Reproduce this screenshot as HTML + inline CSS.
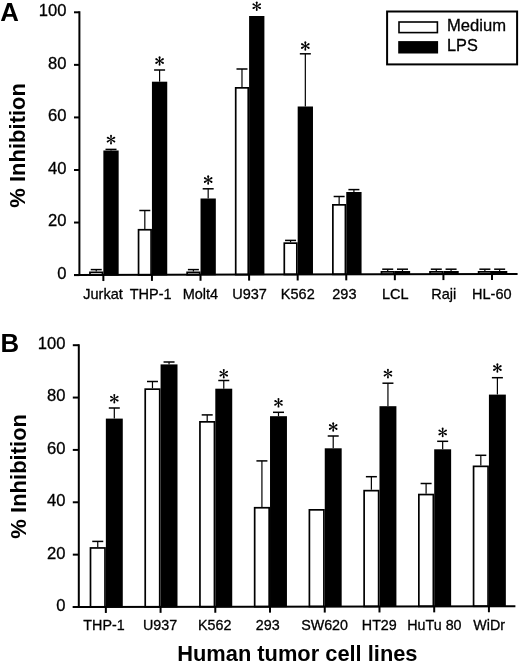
<!DOCTYPE html>
<html><head><meta charset="utf-8"><style>
html,body{margin:0;padding:0;background:#fff;}
body{width:520px;height:664px;overflow:hidden;}
svg{display:block;will-change:transform;}
text{font-family:"Liberation Sans",sans-serif;fill:#000;}
text:not([font-weight]){stroke:#000;stroke-width:0.3px;}
.ax{stroke:#000;stroke-width:2;fill:none;}
.e{stroke:#000;stroke-width:1.2;}
.c{stroke:#000;stroke-width:1.5;}
.w{fill:#fff;stroke:#000;stroke-width:1.7;}
</style></head><body>
<svg width="520" height="664" viewBox="0 0 520 664">
<defs>
<g id="ast"><g transform="rotate(0)"><path d="M-0.3,0 L-0.95,-3.85 A0.95,0.95 0 0 1 0.95,-3.85 L0.3,0 Z"/></g><g transform="rotate(60)"><path d="M-0.3,0 L-0.95,-3.85 A0.95,0.95 0 0 1 0.95,-3.85 L0.3,0 Z"/></g><g transform="rotate(120)"><path d="M-0.3,0 L-0.95,-3.85 A0.95,0.95 0 0 1 0.95,-3.85 L0.3,0 Z"/></g><g transform="rotate(180)"><path d="M-0.3,0 L-0.95,-3.85 A0.95,0.95 0 0 1 0.95,-3.85 L0.3,0 Z"/></g><g transform="rotate(240)"><path d="M-0.3,0 L-0.95,-3.85 A0.95,0.95 0 0 1 0.95,-3.85 L0.3,0 Z"/></g><g transform="rotate(300)"><path d="M-0.3,0 L-0.95,-3.85 A0.95,0.95 0 0 1 0.95,-3.85 L0.3,0 Z"/></g><circle r="0.75"/></g>
</defs>
<line x1="96.24" y1="271.5" x2="96.24" y2="269.6" class="e"/>
<line x1="90.74" y1="269.6" x2="101.74" y2="269.6" class="c"/>
<rect x="89.97" y="272.35" width="12.54" height="2.69" class="w"/>
<line x1="111.01" y1="150.5" x2="111.01" y2="149.4" class="e"/>
<line x1="105.51" y1="149.4" x2="116.51" y2="149.4" class="c"/>
<rect x="103.36" y="150.5" width="15.3" height="125.04" fill="#000"/>
<use href="#ast" x="111.01" y="139.6"/>
<line x1="103.36" y1="275.04" x2="103.36" y2="281.04" class="ax"/>
<text x="103" y="298.7" font-size="14.5" text-anchor="middle">Jurkat</text>
<line x1="144.82" y1="228.9" x2="144.82" y2="210.5" class="e"/>
<line x1="139.32" y1="210.5" x2="150.32" y2="210.5" class="c"/>
<rect x="138.55" y="229.75" width="12.54" height="45.15" class="w"/>
<line x1="159.59" y1="81.7" x2="159.59" y2="70" class="e"/>
<line x1="154.09" y1="70" x2="165.09" y2="70" class="c"/>
<rect x="151.94" y="81.7" width="15.3" height="193.7" fill="#000"/>
<use href="#ast" x="159.59" y="61"/>
<line x1="151.94" y1="274.9" x2="151.94" y2="280.9" class="ax"/>
<text x="150.7" y="298.7" font-size="14.5" text-anchor="middle">THP-1</text>
<line x1="193.4" y1="271.5" x2="193.4" y2="269.6" class="e"/>
<line x1="187.9" y1="269.6" x2="198.9" y2="269.6" class="c"/>
<rect x="187.13" y="272.35" width="12.54" height="2.42" class="w"/>
<line x1="208.17" y1="198.5" x2="208.17" y2="188.8" class="e"/>
<line x1="202.67" y1="188.8" x2="213.67" y2="188.8" class="c"/>
<rect x="200.52" y="198.5" width="15.3" height="76.77" fill="#000"/>
<use href="#ast" x="208.17" y="180"/>
<line x1="200.52" y1="274.77" x2="200.52" y2="280.77" class="ax"/>
<text x="200.4" y="298.7" font-size="14.5" text-anchor="middle">Molt4</text>
<line x1="241.98" y1="87" x2="241.98" y2="69" class="e"/>
<line x1="236.48" y1="69" x2="247.48" y2="69" class="c"/>
<rect x="235.71" y="87.85" width="12.54" height="186.78" class="w"/>
<rect x="249.1" y="16" width="15.3" height="259.13" fill="#000"/>
<use href="#ast" x="256.75" y="6.2"/>
<line x1="249.1" y1="274.63" x2="249.1" y2="280.63" class="ax"/>
<text x="249.5" y="298.7" font-size="14.5" text-anchor="middle">U937</text>
<line x1="290.56" y1="242.3" x2="290.56" y2="240.4" class="e"/>
<line x1="285.06" y1="240.4" x2="296.06" y2="240.4" class="c"/>
<rect x="284.29" y="243.15" width="12.54" height="31.35" class="w"/>
<line x1="305.33" y1="106.5" x2="305.33" y2="53.8" class="e"/>
<line x1="299.83" y1="53.8" x2="310.83" y2="53.8" class="c"/>
<rect x="297.68" y="106.5" width="15.3" height="168.5" fill="#000"/>
<use href="#ast" x="305.33" y="46"/>
<line x1="297.68" y1="274.5" x2="297.68" y2="280.5" class="ax"/>
<text x="297.8" y="298.7" font-size="14.5" text-anchor="middle">K562</text>
<line x1="339.14" y1="204" x2="339.14" y2="196.5" class="e"/>
<line x1="333.64" y1="196.5" x2="344.64" y2="196.5" class="c"/>
<rect x="332.87" y="204.85" width="12.54" height="69.51" class="w"/>
<line x1="353.91" y1="192" x2="353.91" y2="189.6" class="e"/>
<line x1="348.41" y1="189.6" x2="359.41" y2="189.6" class="c"/>
<rect x="346.26" y="192" width="15.3" height="82.86" fill="#000"/>
<line x1="346.26" y1="274.36" x2="346.26" y2="280.36" class="ax"/>
<text x="344.4" y="298.7" font-size="14.5" text-anchor="middle">293</text>
<line x1="387.72" y1="271" x2="387.72" y2="269.2" class="e"/>
<line x1="382.22" y1="269.2" x2="393.22" y2="269.2" class="c"/>
<rect x="381.45" y="271.85" width="12.54" height="2.38" class="w"/>
<line x1="402.49" y1="271" x2="402.49" y2="269.2" class="e"/>
<line x1="396.99" y1="269.2" x2="407.99" y2="269.2" class="c"/>
<rect x="394.84" y="271" width="15.3" height="3.73" fill="#000"/>
<line x1="394.84" y1="274.23" x2="394.84" y2="280.23" class="ax"/>
<text x="395.2" y="298.7" font-size="14.5" text-anchor="middle">LCL</text>
<line x1="436.3" y1="271" x2="436.3" y2="269.2" class="e"/>
<line x1="430.8" y1="269.2" x2="441.8" y2="269.2" class="c"/>
<rect x="430.03" y="271.85" width="12.54" height="2.24" class="w"/>
<line x1="451.07" y1="271" x2="451.07" y2="269.2" class="e"/>
<line x1="445.57" y1="269.2" x2="456.57" y2="269.2" class="c"/>
<rect x="443.42" y="271" width="15.3" height="3.59" fill="#000"/>
<line x1="443.42" y1="274.09" x2="443.42" y2="280.09" class="ax"/>
<text x="443.8" y="298.7" font-size="14.5" text-anchor="middle">Raji</text>
<line x1="484.88" y1="271" x2="484.88" y2="269.2" class="e"/>
<line x1="479.38" y1="269.2" x2="490.38" y2="269.2" class="c"/>
<rect x="478.61" y="271.85" width="12.54" height="2.11" class="w"/>
<line x1="499.65" y1="271" x2="499.65" y2="269.2" class="e"/>
<line x1="494.15" y1="269.2" x2="505.15" y2="269.2" class="c"/>
<rect x="492" y="271" width="15.3" height="3.46" fill="#000"/>
<line x1="492" y1="273.96" x2="492" y2="279.96" class="ax"/>
<text x="491.8" y="298.7" font-size="14.5" text-anchor="middle">HL-60</text>
<line x1="79.4" y1="11.3" x2="79.4" y2="276.1" class="ax"/>
<line x1="74" y1="275.12" x2="517.6" y2="273.89" class="ax"/>
<line x1="74" y1="12.3" x2="79.4" y2="12.3" class="ax"/>
<text x="66.5" y="16.2" font-size="16.6" text-anchor="end">100</text>
<line x1="74" y1="64.86" x2="79.4" y2="64.86" class="ax"/>
<text x="66.5" y="68.76" font-size="16.6" text-anchor="end">80</text>
<line x1="74" y1="117.42" x2="79.4" y2="117.42" class="ax"/>
<text x="66.5" y="121.32" font-size="16.6" text-anchor="end">60</text>
<line x1="74" y1="169.98" x2="79.4" y2="169.98" class="ax"/>
<text x="66.5" y="173.88" font-size="16.6" text-anchor="end">40</text>
<line x1="74" y1="222.54" x2="79.4" y2="222.54" class="ax"/>
<text x="66.5" y="226.44" font-size="16.6" text-anchor="end">20</text>
<line x1="74" y1="275.1" x2="79.4" y2="275.1" class="ax"/>
<text x="66.5" y="279" font-size="16.6" text-anchor="end">0</text>
<line x1="97.75" y1="547.1" x2="97.75" y2="541.4" class="e"/>
<line x1="92.25" y1="541.4" x2="103.25" y2="541.4" class="c"/>
<rect x="90.5" y="547.95" width="14.5" height="59" class="w"/>
<line x1="114.31" y1="418.6" x2="114.31" y2="408" class="e"/>
<line x1="108.81" y1="408" x2="119.81" y2="408" class="c"/>
<rect x="105.85" y="418.6" width="16.93" height="188.85" fill="#000"/>
<use href="#ast" x="114.31" y="398.7"/>
<line x1="105.85" y1="606.95" x2="105.85" y2="612.95" class="ax"/>
<text x="104" y="630.2" font-size="14.3" text-anchor="middle">THP-1</text>
<line x1="152.47" y1="388.3" x2="152.47" y2="381.5" class="e"/>
<line x1="146.97" y1="381.5" x2="157.97" y2="381.5" class="c"/>
<rect x="145.22" y="389.15" width="14.5" height="217.7" class="w"/>
<line x1="169.04" y1="364.4" x2="169.04" y2="362" class="e"/>
<line x1="163.54" y1="362" x2="174.54" y2="362" class="c"/>
<rect x="160.57" y="364.4" width="16.93" height="242.95" fill="#000"/>
<line x1="160.57" y1="606.85" x2="160.57" y2="612.85" class="ax"/>
<text x="160.1" y="630.2" font-size="14.3" text-anchor="middle">U937</text>
<line x1="207.2" y1="421" x2="207.2" y2="414.9" class="e"/>
<line x1="201.7" y1="414.9" x2="212.7" y2="414.9" class="c"/>
<rect x="199.95" y="421.85" width="14.5" height="184.91" class="w"/>
<line x1="223.77" y1="388.7" x2="223.77" y2="380.5" class="e"/>
<line x1="218.27" y1="380.5" x2="229.27" y2="380.5" class="c"/>
<rect x="215.3" y="388.7" width="16.93" height="218.56" fill="#000"/>
<use href="#ast" x="223.77" y="373.7"/>
<line x1="215.3" y1="606.76" x2="215.3" y2="612.76" class="ax"/>
<text x="214.7" y="630.2" font-size="14.3" text-anchor="middle">K562</text>
<line x1="261.92" y1="506.9" x2="261.92" y2="460.9" class="e"/>
<line x1="256.42" y1="460.9" x2="267.42" y2="460.9" class="c"/>
<rect x="254.67" y="507.75" width="14.5" height="98.91" class="w"/>
<line x1="278.49" y1="416.2" x2="278.49" y2="412.3" class="e"/>
<line x1="272.99" y1="412.3" x2="283.99" y2="412.3" class="c"/>
<rect x="270.02" y="416.2" width="16.93" height="190.96" fill="#000"/>
<use href="#ast" x="278.49" y="402.8"/>
<line x1="270.02" y1="606.66" x2="270.02" y2="612.66" class="ax"/>
<text x="267.8" y="630.2" font-size="14.3" text-anchor="middle">293</text>
<rect x="309.4" y="509.85" width="14.5" height="96.71" class="w"/>
<line x1="333.21" y1="448.3" x2="333.21" y2="436" class="e"/>
<line x1="327.71" y1="436" x2="338.71" y2="436" class="c"/>
<rect x="324.75" y="448.3" width="16.93" height="158.76" fill="#000"/>
<use href="#ast" x="333.21" y="427"/>
<line x1="324.75" y1="606.56" x2="324.75" y2="612.56" class="ax"/>
<text x="324.6" y="630.2" font-size="14.3" text-anchor="middle">SW620</text>
<line x1="371.38" y1="489.8" x2="371.38" y2="476.7" class="e"/>
<line x1="365.88" y1="476.7" x2="376.88" y2="476.7" class="c"/>
<rect x="364.13" y="490.65" width="14.5" height="115.81" class="w"/>
<line x1="387.94" y1="406.2" x2="387.94" y2="383.2" class="e"/>
<line x1="382.44" y1="383.2" x2="393.44" y2="383.2" class="c"/>
<rect x="379.48" y="406.2" width="16.93" height="200.76" fill="#000"/>
<use href="#ast" x="387.94" y="373.6"/>
<line x1="379.48" y1="606.46" x2="379.48" y2="612.46" class="ax"/>
<text x="379.3" y="630.2" font-size="14.3" text-anchor="middle">HT29</text>
<line x1="426.1" y1="493.7" x2="426.1" y2="483.5" class="e"/>
<line x1="420.6" y1="483.5" x2="431.6" y2="483.5" class="c"/>
<rect x="418.85" y="494.55" width="14.5" height="111.81" class="w"/>
<line x1="442.67" y1="449.3" x2="442.67" y2="441.3" class="e"/>
<line x1="437.17" y1="441.3" x2="448.17" y2="441.3" class="c"/>
<rect x="434.2" y="449.3" width="16.93" height="157.56" fill="#000"/>
<use href="#ast" x="442.67" y="432.4"/>
<line x1="434.2" y1="606.36" x2="434.2" y2="612.36" class="ax"/>
<text x="434.4" y="630.2" font-size="14.3" text-anchor="middle">HuTu 80</text>
<line x1="480.82" y1="465.5" x2="480.82" y2="455.3" class="e"/>
<line x1="475.32" y1="455.3" x2="486.32" y2="455.3" class="c"/>
<rect x="473.57" y="466.35" width="14.5" height="139.91" class="w"/>
<line x1="497.39" y1="394.6" x2="497.39" y2="377.7" class="e"/>
<line x1="491.89" y1="377.7" x2="502.89" y2="377.7" class="c"/>
<rect x="488.92" y="394.6" width="16.93" height="212.16" fill="#000"/>
<use href="#ast" x="497.39" y="368"/>
<line x1="488.92" y1="606.26" x2="488.92" y2="612.26" class="ax"/>
<text x="489.2" y="630.2" font-size="14.3" text-anchor="middle">WiDr</text>
<line x1="78.8" y1="344.2" x2="78.8" y2="608" class="ax"/>
<line x1="72.8" y1="607.01" x2="515.4" y2="606.22" class="ax"/>
<line x1="72.8" y1="345.2" x2="78.8" y2="345.2" class="ax"/>
<text x="65.5" y="349.1" font-size="16.6" text-anchor="end">100</text>
<line x1="72.8" y1="397.56" x2="78.8" y2="397.56" class="ax"/>
<text x="65.5" y="401.46" font-size="16.6" text-anchor="end">80</text>
<line x1="72.8" y1="449.92" x2="78.8" y2="449.92" class="ax"/>
<text x="65.5" y="453.82" font-size="16.6" text-anchor="end">60</text>
<line x1="72.8" y1="502.28" x2="78.8" y2="502.28" class="ax"/>
<text x="65.5" y="506.18" font-size="16.6" text-anchor="end">40</text>
<line x1="72.8" y1="554.64" x2="78.8" y2="554.64" class="ax"/>
<text x="65.5" y="558.54" font-size="16.6" text-anchor="end">20</text>
<line x1="72.8" y1="607" x2="78.8" y2="607" class="ax"/>
<text x="65.5" y="610.9" font-size="16.6" text-anchor="end">0</text>
<text x="0.3" y="20.8" font-size="25.8" font-weight="bold">A</text>
<text x="0.6" y="351.8" font-size="25.8" font-weight="bold">B</text>
<text transform="translate(25.4,145.35) rotate(-90)" text-anchor="middle" font-size="22" font-weight="bold">% Inhibition</text>
<text transform="translate(26,476.3) rotate(-90)" text-anchor="middle" font-size="22" font-weight="bold">% Inhibition</text>
<text x="177.2" y="660.5" font-size="21.85" font-weight="bold">Human tumor cell lines</text>
<rect x="387.1" y="11.5" width="130" height="52.9" fill="none" stroke="#000" stroke-width="2"/>
<rect x="399" y="22" width="38.4" height="10.6" fill="#fff" stroke="#000" stroke-width="1.6"/>
<rect x="398.2" y="41.1" width="39.9" height="12.4" fill="#000"/>
<text x="447" y="30.8" font-size="16.6">Medium</text>
<text x="447" y="50.8" font-size="16.3">LPS</text>
</svg>
</body></html>
